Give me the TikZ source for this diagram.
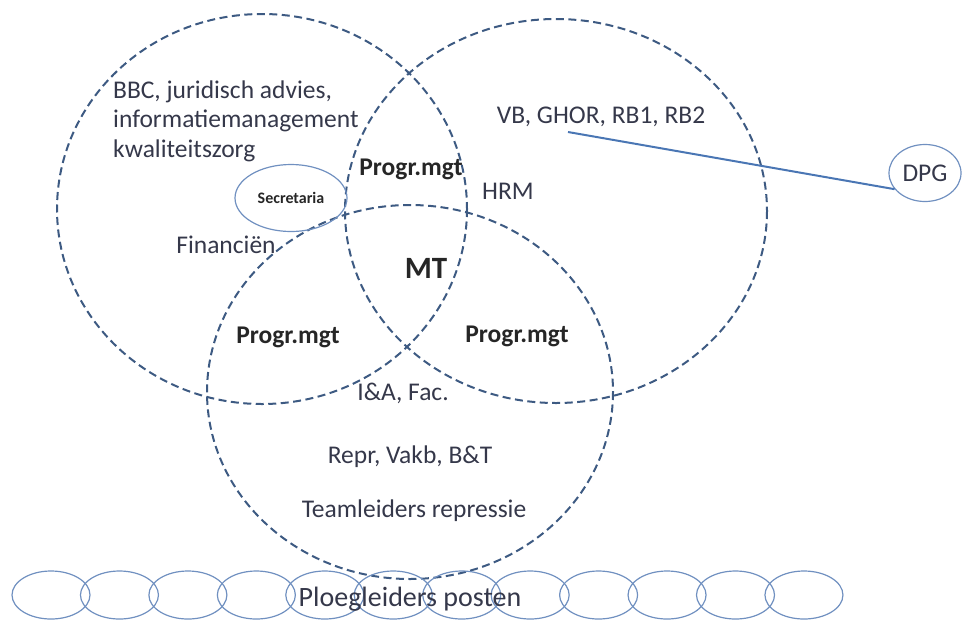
\documentclass[tikz,border=0pt]{standalone}
\usepackage{fontspec}
\setmainfont{Carlito}
\usetikzlibrary{shapes.geometric}
\definecolor{ringblue}{HTML}{3D5A82}
\definecolor{shapeblue}{HTML}{7090C0}
\definecolor{lineblue}{HTML}{4A76B4}
\definecolor{txtgrey}{HTML}{35384A}
\tikzset{
  ring/.style={ringblue, line width=2pt, dash pattern=on 8pt off 4.5pt},
  lbl/.style={text=txtgrey, inner sep=0pt, font=\fontsize{25.5}{29.5}\selectfont},
  blbl/.style={text=black!85, inner sep=0pt, font=\fontsize{25.5}{29}\selectfont\bfseries},
  oval/.style={ellipse, draw=shapeblue, line width=1.2pt, inner sep=0pt},
  link/.style={lineblue, line width=2pt},
}
\begin{document}
\begin{tikzpicture}[x=1pt,y=-1pt]
\useasboundingbox (0,0) rectangle (963,619);
%\draw[step=50,gray,very thin] (0,0) grid (963,619); %background grid
\draw[ring] (262,209) ellipse [x radius=205, y radius=195];
\draw[ring] (556,211) ellipse [x radius=211, y radius=192];
\draw[ring] (410,392) ellipse [x radius=203, y radius=187];
\foreach \i in {0,...,11}
  \node[oval, minimum width=78pt, minimum height=48pt] (post\i) at ({51+68.45*\i},595) {};
\node[oval, minimum width=112pt, minimum height=67pt, text=black!85, font=\fontsize{16}{18}\selectfont\bfseries] (secr) at (291,198) {Secretaria};
\node[oval, minimum width=72pt, minimum height=57pt, text=txtgrey, font=\fontsize{25.5}{30}\selectfont] (dpg) at (925,173) {DPG};
\node[lbl, align=left, anchor=base west] (staf) at (113,157) {BBC, juridisch advies,\\informatiemanagement\\kwaliteitszorg};
\node[lbl, anchor=base] (vb) at (601,123) {VB, GHOR, RB1, RB2};
\node[lbl, anchor=base] (hrm) at (508,199) {HRM};
\node[lbl, anchor=base] (fin) at (226,253) {Financiën};
\node[blbl, anchor=base] (pmab) at (411,175) {Progr.mgt};
\node[blbl, font=\fontsize{31}{36}\selectfont\bfseries, anchor=base] (mt) at (426,278) {MT};
\node[blbl, anchor=base] (pmac) at (288,343) {Progr.mgt};
\node[blbl, anchor=base] (pmbc) at (517,342) {Progr.mgt};
\node[lbl, anchor=base] (ia) at (403,400) {I\&A, Fac.};
\node[lbl, anchor=base] (repr) at (410,463) {Repr, Vakb, B\&T};
\node[lbl, anchor=base] (team) at (414,517) {Teamleiders repressie};
\node[lbl, font=\fontsize{28}{30}\selectfont, anchor=base] (ploeg) at (410,606) {Ploegleiders posten};
\coordinate (vbfoot) at (568,132);
\draw[link] (vbfoot) -- (dpg.208);
\end{tikzpicture}
\end{document}
